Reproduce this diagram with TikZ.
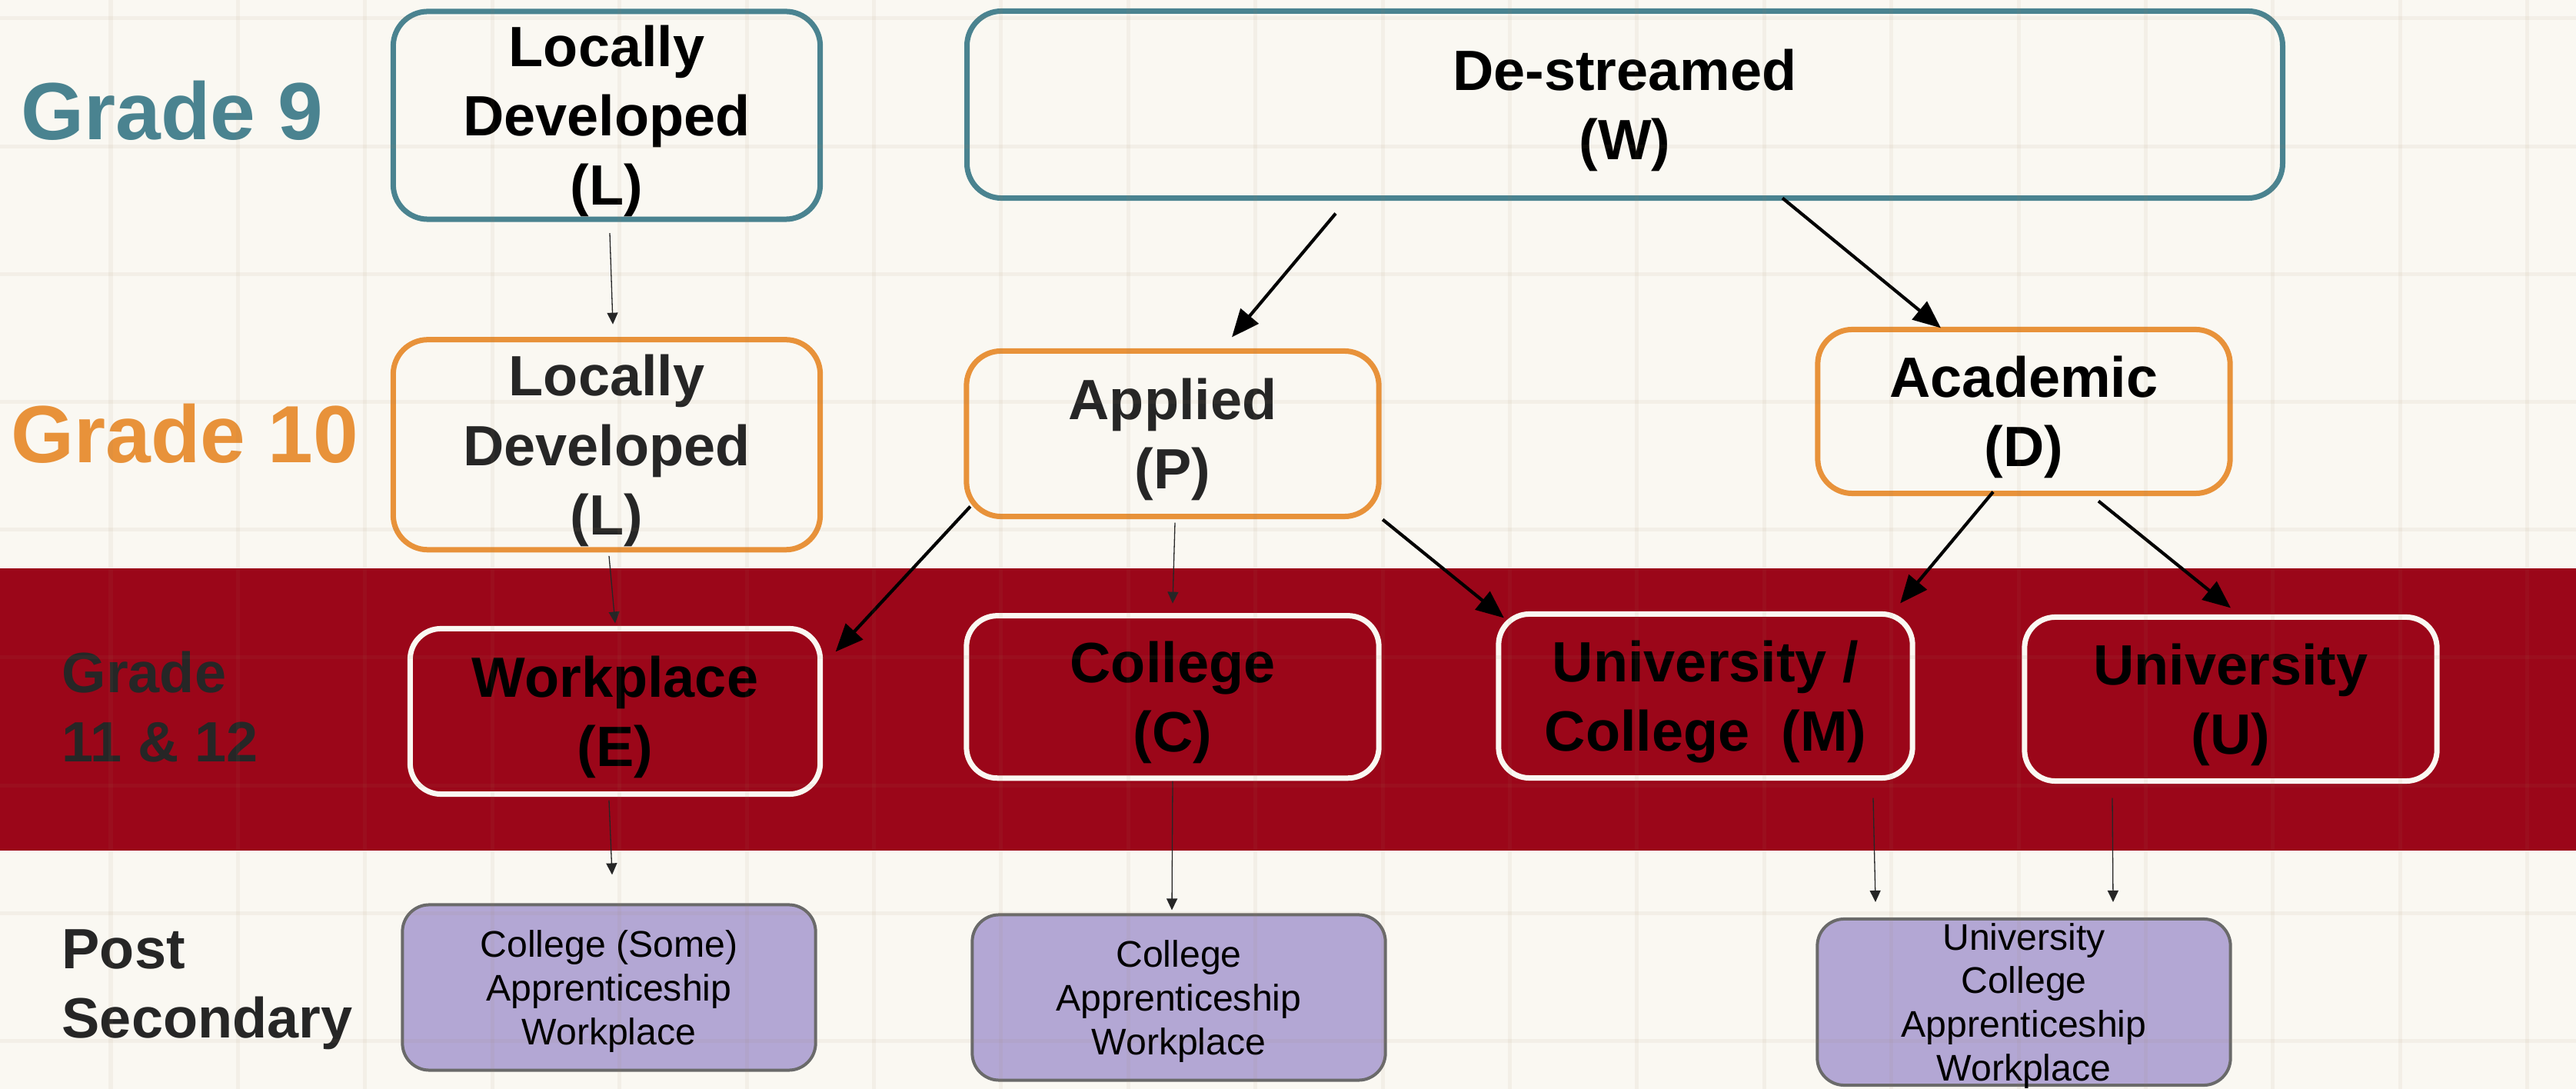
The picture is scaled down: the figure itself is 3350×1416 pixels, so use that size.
\documentclass[tikz,border=0pt]{standalone}
\usepackage{fontspec}
\setmainfont{Liberation Sans}
\usepackage{tikz}
\usetikzlibrary{arrows.meta,positioning,calc}

\definecolor{bgcream}{HTML}{FAF8F2}
\definecolor{gradeteal}{HTML}{4A8390}
\definecolor{gradeorange}{HTML}{E8923A}
\definecolor{bandred}{HTML}{9B0619}
\definecolor{postpurple}{HTML}{B3A7D4}
\definecolor{postgray}{HTML}{6A6A6A}
\definecolor{inkdark}{HTML}{262626}

\begin{document}
\begin{tikzpicture}[x=0.01cm,y=-0.01cm,>={Triangle[length=0.36cm,width=0.3cm]}]

	\tikzstyle{box}=[rectangle,rounded corners=0.45cm,line width=0.07cm,inner sep=0pt,outer sep=0pt,text depth=0pt,align=center,font=\fontsize{21}{25.6}\selectfont\bfseries]
	\tikzstyle{nine}=[box,draw=gradeteal]
	\tikzstyle{ten}=[box,draw=gradeorange,text=inkdark]
	\tikzstyle{senior}=[box,draw=bgcream,rounded corners=0.4cm]
	\tikzstyle{post}=[rectangle,rounded corners=0.35cm,draw=postgray,line width=0.04cm,fill=postpurple,inner sep=0pt,outer sep=0pt,text depth=0pt,align=center,font=\fontsize{13.7}{16.2}\selectfont,minimum width=5.37cm,minimum height=2.15cm]
	\tikzstyle{flow}=[->,line width=0.042cm,black]
	\tikzstyle{link}=[-{Triangle[length=0.15cm,width=0.14cm]},line width=0.013cm,draw=inkdark]
	\tikzstyle{grade}=[anchor=base west,inner sep=0pt,font=\fontsize{30}{36}\selectfont\bfseries]
	\tikzstyle{level}=[anchor=west,inner sep=0pt,align=left,text=inkdark,font=\fontsize{21}{25.6}\selectfont\bfseries]
	\tikzstyle{gridline}=[line width=0.05cm,draw=brown!50!gray,opacity=0.07]

	\useasboundingbox (0,0) rectangle (3350,1416);
	\fill[bgcream] (0,0) rectangle (3350,1416);
	\fill[bandred] (0,739) rectangle (3350,1106);

	% row labels
	\node[grade,text=gradeteal] (g9) at (27,182) {Grade 9};
	\node[grade,text=gradeorange] (g10) at (14,602) {Grade 10};
	\node[level] (g11) at (80,919) {Grade\\11 \& 12};
	\node[level] (gps) at (80,1287) {Post\\Secondary};

	% grade 9 and 10
	\node[nine,minimum width=5.55cm,minimum height=2.7cm] (L9) at (789,150) {Locally\\Developed\\(L)};
	\node[nine,minimum width=17.1cm,minimum height=2.43cm] (W) at (2113,136) {De-streamed\\(W)};
	\node[ten,minimum width=5.55cm,minimum height=2.73cm] (L10) [below=1.565cm of L9] {Locally\\Developed\\(L)};
	\node[ten,minimum width=5.36cm,minimum height=2.15cm] (P) at (1525,564) {Applied\\(P)};
	\node[ten,text=black,minimum width=5.36cm,minimum height=2.13cm] (D) at (2632,535) {Academic\\(D)};

	% grade 11 and 12
	\node[senior,minimum width=5.33cm,minimum height=2.15cm] (E) at (800,925) {Workplace\\(E)};
	\node[senior,minimum width=5.36cm,minimum height=2.11cm] (C) [below=1.29cm of P] {College\\(C)};
	\node[senior,minimum width=5.38cm,minimum height=2.13cm] (M) at (2218,905) {University /\\College~~(M)};
	\node[senior,minimum width=5.36cm,minimum height=2.13cm] (U) at (2901,909) {University\\(U)};

	% post secondary
	\node[post] (PS1) at (792,1284) {College (Some)\\Apprenticeship\\Workplace};
	\node[post] (PS2) at (1533,1297) {College\\Apprenticeship\\Workplace};
	\node[post,minimum height=2.16cm] (PS3) at (2632,1303) {University\\College\\Apprenticeship\\Workplace};

	\draw[link] ($(L9.south)+(4,18)$) -- ($(L10.north)+(8,-20)$);
	\draw[flow] ($(W.south)+(-376,20)$) -- ($(P.north)+(77,-18)$);
	\draw[flow] ($(W.south)+(205,0)$) -- ($(D.north)+(-108,-2)$);
	\draw[link] ($(L10.south)+(3,8)$) -- ($(E.north)+(0,-7)$);
	\draw[flow] ($(P.south west)+(5,-13)$) -- ($(E.north east)+(20,30)$);
	\draw[link] ($(P.south)+(3,8)$) -- ($(C.north)+(0,-16)$);
	\draw[flow] ($(P.south east)+(5,4)$) -- ($(M.north west)+(7,5)$);
	\draw[flow] ($(D.south)+(-40,-2)$) -- ($(M.north east)+(-16,-14)$);
	\draw[flow] ($(D.south)+(97,10)$) -- ($(U.north)+(0,-12)$);
	\draw[link] ($(E.south)+(-8,8)$) -- ($(PS1.north)+(4,-39)$);
	\draw[link] ($(C.south)+(0,4)$) -- ($(PS2.north)+(-9,-6)$);
	\draw[link] ($(M.south)+(218,26)$) -- ($(PS3.north)+(-193,-22)$);
	\draw[link] ($(U.south)+(-154,22)$) -- ($(PS3.north)+(116,-22)$);

	% faint grid
	\foreach \k in {-1,...,20}
		\draw[gridline] ({144+165.4*\k},0) -- ({144+165.4*\k},1416);
	\foreach \k in {-1,...,8}
		\draw[gridline] (0,{24+166.2*\k}) -- (3350,{24+166.2*\k});
\end{tikzpicture}
\end{document}
